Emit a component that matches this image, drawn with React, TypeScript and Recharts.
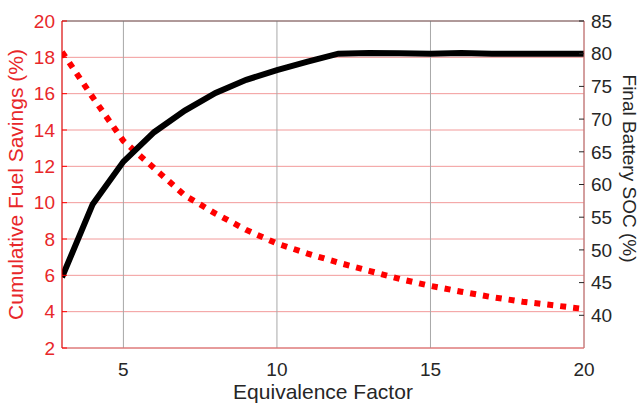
import { ComposedChart, Line, XAxis, YAxis, CartesianGrid, ReferenceLine, Label } from 'recharts';

const factors = [3, 4, 5, 6, 7, 8, 9, 10, 11, 12, 13, 14, 15, 16, 17, 18, 19, 20];
const fuelSavings = [18.3, 15.8, 13.4, 11.9, 10.4, 9.4, 8.5, 7.75, 7.2, 6.7, 6.25, 5.8, 5.42, 5.1, 4.8, 4.55, 4.35, 4.15];
const finalSoc = [45.8, 57, 63.5, 68, 71.3, 74, 76, 77.5, 78.8, 80, 80.1, 80.05, 80, 80.1, 80, 80, 80, 80];

const leftTicks = [2, 4, 6, 8, 10, 12, 14, 16, 18, 20];
const rightTicks = [40, 45, 50, 55, 60, 65, 70, 75, 80, 85];
const xTicks = [5, 10, 15, 20];

const RED = '#ff0000';
const RED_TEXT = '#e8272a';
const DARK = '#262626';
const FONT = '"Liberation Sans", Arial, sans-serif';

const data = factors.map((f, i) => ({ x: f, fuel: fuelSavings[i], soc: finalSoc[i] }));

export default function App() {
  return (
    <div style={{ position: 'absolute', left: 0, top: 0, background: '#fff' }}>
      <ComposedChart
        width={643}
        height={410}
        data={data}
        margin={{ top: 21, right: 0, bottom: 0, left: 0 }}
        style={{ fontFamily: FONT }}
      >
        <CartesianGrid yAxisId="left" vertical={false} stroke="#f29a9a" strokeWidth={1} />
        <CartesianGrid yAxisId="left" horizontal={false} stroke="#a8a8a8" strokeWidth={1} />
        <XAxis
          dataKey="x"
          type="number"
          domain={[3, 20]}
          ticks={xTicks}
          allowDataOverflow
          height={62}
          tickLine={false}
          tickSize={0}
          tickMargin={15}
          axisLine={{ stroke: '#d46a6a' }}
          tick={{ fill: DARK, fontSize: 19 }}
        >
          <Label value="Equivalence Factor" position="center" dy={13} fill={DARK} fontSize={21} />
        </XAxis>
        <YAxis
          yAxisId="left"
          orientation="left"
          type="number"
          domain={[2, 20]}
          ticks={leftTicks}
          allowDataOverflow
          width={62}
          tickSize={-5}
          tickMargin={12}
          axisLine={{ stroke: RED }}
          tickLine={{ stroke: RED }}
          tick={{ fill: RED_TEXT, fontSize: 19 }}
        >
          <Label value="Cumulative Fuel Savings (%)" angle={-90} position="center" dx={-15} fill={RED_TEXT} fontSize={21} />
        </YAxis>
        <YAxis
          yAxisId="right"
          orientation="right"
          type="number"
          domain={[35, 85]}
          ticks={rightTicks}
          allowDataOverflow
          width={59}
          tickSize={-5}
          tickMargin={12}
          axisLine={{ stroke: '#d46a6a' }}
          tickLine={{ stroke: DARK }}
          tick={{ fill: DARK, fontSize: 19 }}
        >
          <Label value="Final Battery SOC (%)" angle={90} position="center" dx={16} dy={-16} fill={DARK} fontSize={19} />
        </YAxis>
        <ReferenceLine yAxisId="left" y={20} stroke="#666" strokeWidth={1} />
        <Line
          yAxisId="left"
          dataKey="fuel"
          type="linear"
          stroke={RED}
          strokeWidth={6}
          strokeDasharray="6 7"
          dot={false}
          isAnimationActive={false}
        />
        <Line
          yAxisId="right"
          dataKey="soc"
          type="linear"
          stroke="#000"
          strokeWidth={6}
          dot={false}
          isAnimationActive={false}
        />
      </ComposedChart>
    </div>
  );
}
